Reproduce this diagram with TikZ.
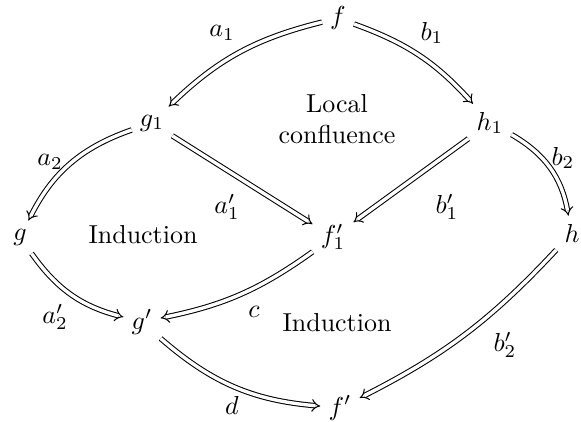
\documentclass[tikz,border=0pt]{standalone}
\usetikzlibrary{arrows.meta}

\begin{document}
\begin{tikzpicture}[
    x=0.385pt, y=-0.385pt,
    obj/.style={inner sep=3pt},
    twocell/.style={double, double distance=1.3pt, -{Implies}, thin},
    lbl/.style={inner sep=1pt},
    note/.style={align=center},
]
\useasboundingbox (0,0) rectangle (581,421);

% objects
\node[obj] (f) at (338,18) {$f$};
\node[obj] (g1) at (152,123) {$g_1$};
\node[obj] (h1) at (490,123) {$h_1$};
\node[obj] (g) at (20,237) {$g$};
\node[obj] (f1) at (333,237) {$f'_1$};
\node[obj] (h) at (572,233) {$h$};
\node[obj] (gp) at (142,322) {$g'$};
\node[obj] (fp) at (340,408) {$f'$};

% rewrite steps
\draw[twocell] (f) to[bend right=15] (g1);
\draw[twocell] (f) to[bend left=14] (h1);
\draw[twocell] (g1) to[bend right=22] (g);
\draw[twocell] (h1) to[bend left=25] (h);
\draw[twocell] (g1) -- (f1);
\draw[twocell] (h1) -- (f1);
\draw[twocell] (g) to[bend right=20] (gp);
\draw[twocell] (f1) to[bend left=12] (gp);
\draw[twocell] (gp) to[bend right=18] (fp);
\draw[twocell] (h) to[bend left=10] (fp);

% labels
\node[lbl] (la1) at (222,33) {$a_1$};
\node[lbl] (lb1) at (432,33) {$b_1$};
\node[lbl] (la2) at (50,162) {$a_2$};
\node[lbl] (lb2) at (563,158) {$b_2$};
\node[lbl] (la1p) at (227,207) {$a'_1$};
\node[lbl] (lb1p) at (447,207) {$b'_1$};
\node[lbl] (la2p) at (55,317) {$a'_2$};
\node[lbl] (lc) at (254,312) {$c$};
\node[lbl] (lb2p) at (505,345) {$b'_2$};
\node[lbl] (ld) at (232,405) {$d$};

% cells
\node[note] (local) at (337,119) {Local\\confluence};
\node[note] (ind1) at (143,235) {Induction};
\node[note] (ind2) at (337,323) {Induction};

\end{tikzpicture}
\end{document}
